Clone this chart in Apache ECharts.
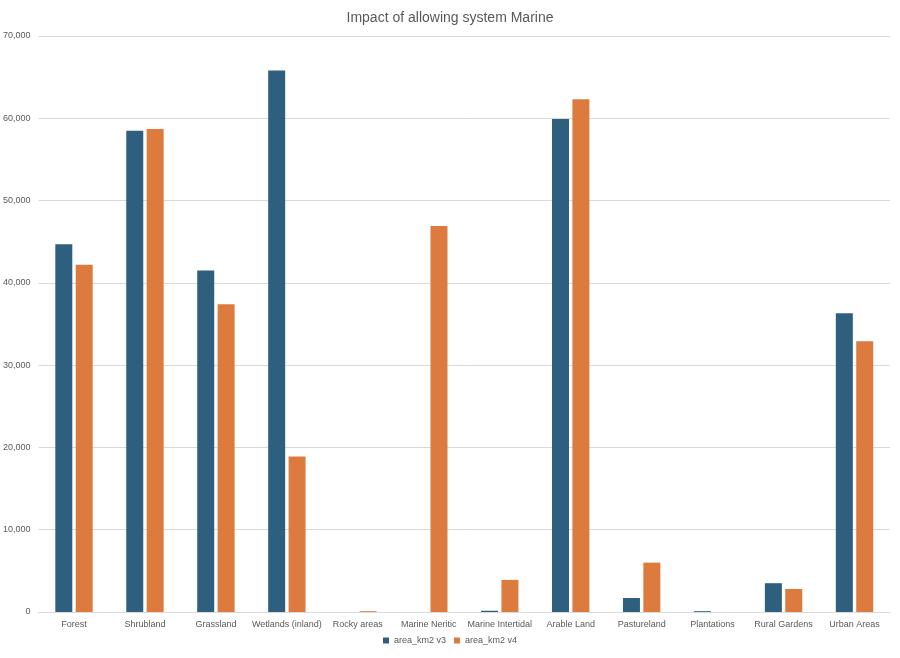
<!DOCTYPE html>
<html>
<head>
<meta charset="utf-8">
<script src="https://cdn.jsdelivr.net/npm/echarts@6/dist/echarts.min.js"></script>
<style>html,body{margin:0;padding:0;background:#fff}#chart{width:900px;height:658px}</style>
</head>
<body>
<div id="chart"></div>
<script>
const categories = ['Forest', 'Shrubland', 'Grassland', 'Wetlands (inland)', 'Rocky areas', 'Marine Neritic', 'Marine Intertidal', 'Arable Land', 'Pastureland', 'Plantations', 'Rural Gardens', 'Urban Areas'];
const v3 = [44700, 58500, 41500, 65800, 0, 0, 150, 59900, 1700, 100, 3500, 36300];
const v4 = [42200, 58700, 37400, 18900, 100, 46900, 3900, 62300, 6000, 0, 2800, 32900];
const yTicks = { min: 0, max: 70000, interval: 10000 };

const chart = echarts.init(document.getElementById('chart'));
const font = 'Liberation Sans';
chart.setOption({
    animation: false,
    textStyle: { fontFamily: font },
    title: {
        text: 'Impact of allowing system Marine',
        left: 'center', top: 6,
        textStyle: { fontSize: 14, fontWeight: 'normal', color: '#595959', fontFamily: font }
    },
    legend: {
        bottom: 8, itemWidth: 6, itemHeight: 6, icon: 'rect',
        textStyle: { fontSize: 9, color: '#595959' },
        data: ['area_km2 v3', 'area_km2 v4']
    },
    grid: { left: 38, right: 10, top: 36, bottom: 46 },
    xAxis: {
        type: 'category', data: categories,
        axisTick: { show: false },
        axisLine: { lineStyle: { color: '#d9d9d9' } },
        axisLabel: { fontSize: 9, color: '#595959', interval: 0 }
    },
    yAxis: {
        type: 'value', min: yTicks.min, max: yTicks.max, interval: yTicks.interval,
        axisLabel: { fontSize: 9, color: '#595959' },
        splitLine: { lineStyle: { color: '#d9d9d9' } }
    },
    series: [
        { name: 'area_km2 v3', type: 'bar', data: v3, barWidth: 17, barGap: '20%', itemStyle: { color: '#2e5f7e' } },
        { name: 'area_km2 v4', type: 'bar', data: v4, barWidth: 17, itemStyle: { color: '#dd7b3f' } }
    ]
});
</script>
</body>
</html>
